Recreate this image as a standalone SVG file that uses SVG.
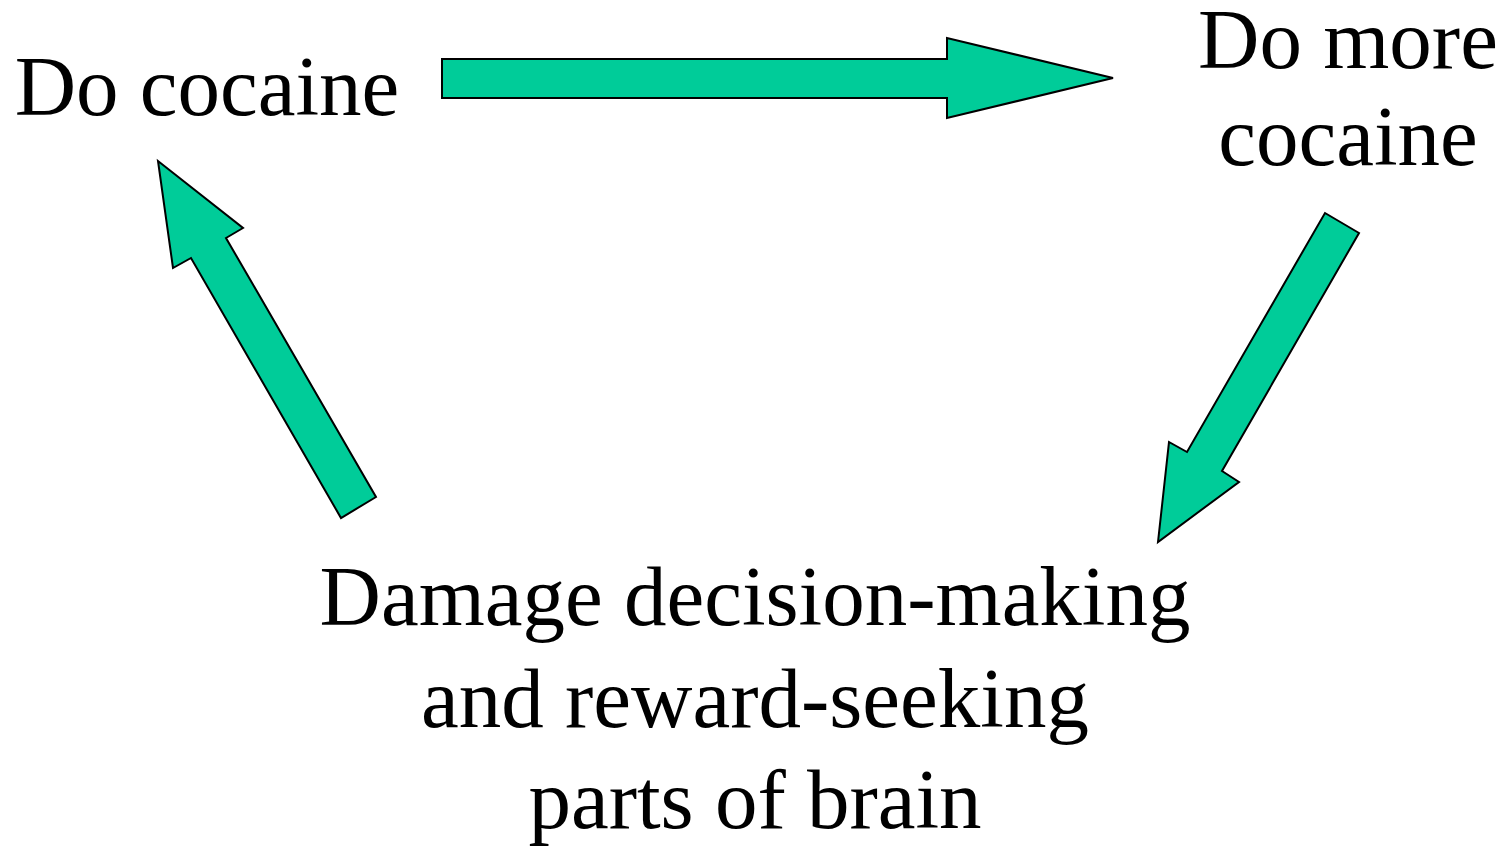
<svg xmlns="http://www.w3.org/2000/svg" width="1511" height="849" viewBox="0 0 1511 849">
  <style>
    .lbl { font-family: "Liberation Serif", "Times New Roman", serif; font-size: 85px; fill: #000; text-anchor: middle; }
    .arrow { fill: #00CC99; stroke: #000; stroke-width: 2; stroke-linejoin: miter; }
  </style>
  <rect width="1511" height="849" fill="#fff"/>
  <g id="connectors">
    <!-- Do cocaine -> Do more cocaine -->
    <polygon class="arrow" points="442,59 947,59 947,38 1113,78 947,118 947,98 442,98"/>
    <!-- Do more cocaine -> Damage -->
    <polygon class="arrow" points="1325,213 1359,233 1222,471 1239,482 1158,542 1169,442 1187,452"/>
    <!-- Damage -> Do cocaine -->
    <polygon class="arrow" points="376,497 341,518 191,258 173,268 158,161 243,228 226,238"/>
  </g>
  <g id="node-do-cocaine">
    <text class="lbl" x="207" y="115">Do cocaine</text>
  </g>
  <g id="node-do-more">
    <text class="lbl" x="1348" y="68">Do more</text>
    <text class="lbl" x="1348" y="165">cocaine</text>
  </g>
  <g id="node-damage">
    <text class="lbl" x="755" y="625">Damage decision-making</text>
    <text class="lbl" x="755" y="727">and reward-seeking</text>
    <text class="lbl" x="755" y="828">parts of brain</text>
  </g>
</svg>
